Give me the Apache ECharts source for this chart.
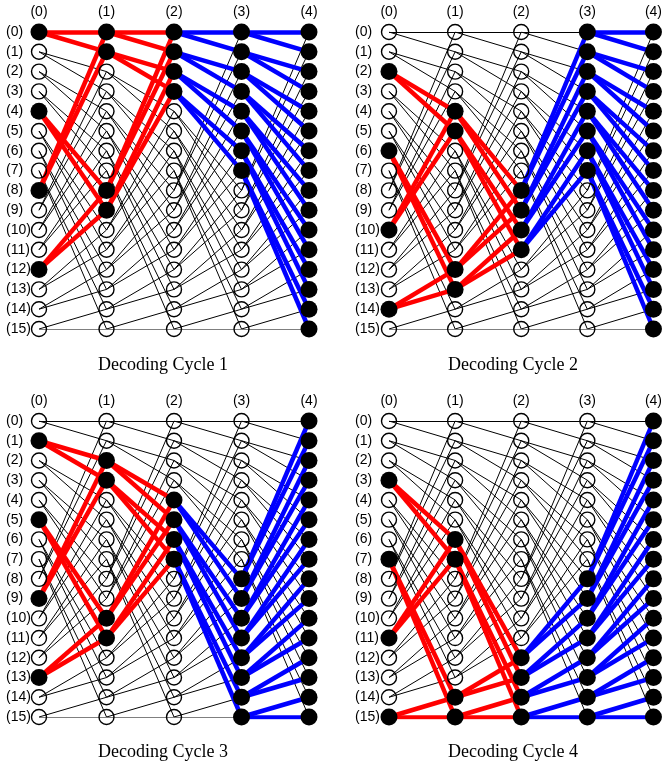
<!DOCTYPE html>
<html>
<head>
<meta charset="utf-8">
<script src="https://cdn.jsdelivr.net/npm/echarts@6/dist/echarts.min.js"></script>
<style>html,body{margin:0;padding:0;background:#fff}#c{width:665px;height:767px}</style>
</head>
<body>
<div id="c"></div>
<script>
// ---- data ----
const stageLabels = ['(0)', '(1)', '(2)', '(3)', '(4)'];
const rowLabels = ['(0)', '(1)', '(2)', '(3)', '(4)', '(5)', '(6)', '(7)', '(8)', '(9)', '(10)', '(11)', '(12)', '(13)', '(14)', '(15)'];
// each node i of a stage connects to these two nodes of the next stage
const shuffleTargets = [[0,1],[2,3],[4,5],[6,7],[8,9],[10,11],[12,13],[14,15],[0,1],[2,3],[4,5],[6,7],[8,9],[10,11],[12,13],[14,15]];
const cycleTitles = ['Decoding Cycle 1', 'Decoding Cycle 2', 'Decoding Cycle 3', 'Decoding Cycle 4'];
const cycle1Active = [[0,4,8,12],[0,1,8,9],[0,1,2,3],[0,1,2,3,4,5,6,7],[0,1,2,3,4,5,6,7,8,9,10,11,12,13,14,15]];
const cycle2Active = [[2,6,10,14],[4,5,12,13],[8,9,10,11],[0,1,2,3,4,5,6,7],[0,1,2,3,4,5,6,7,8,9,10,11,12,13,14,15]];
const cycle3Active = [[1,5,9,13],[2,3,10,11],[4,5,6,7],[8,9,10,11,12,13,14,15],[0,1,2,3,4,5,6,7,8,9,10,11,12,13,14,15]];
const cycle4Active = [[3,7,11,15],[6,7,14,15],[12,13,14,15],[8,9,10,11,12,13,14,15],[0,1,2,3,4,5,6,7,8,9,10,11,12,13,14,15]];
const cycles = [cycle1Active, cycle2Active, cycle3Active, cycle4Active];

// ---- layout / style ----
const panels = [
  {left: 39, top: 32, width: 270, height: 297, labelMargin: 33, titleX: 163, titleY: 356},
  {left: 389, top: 32, width: 269, height: 297, labelMargin: 34, titleX: 513, titleY: 356},
  {left: 39, top: 421, width: 270, height: 296, labelMargin: 33, titleX: 163, titleY: 743},
  {left: 389, top: 421, width: 269, height: 296, labelMargin: 34, titleX: 513, titleY: 743}
];
const RED = '#ff0000', BLUE = '#0000ff';
const sans = '"Liberation Sans", Arial, Helvetica, sans-serif';
const serif = '"Liberation Serif", "Times New Roman", Times, serif';

const grids = [], xAxes = [], yAxes = [], series = [], titles = [];
panels.forEach((p, k) => {
  grids.push({left: p.left, top: p.top, width: p.width, height: p.height});
  xAxes.push({
    gridIndex: k, type: 'value', min: 0, max: 4, interval: 1, position: 'top',
    axisLine: {show: false}, axisTick: {show: false}, splitLine: {show: false},
    axisLabel: {margin: 13, color: '#000', fontSize: 14, fontFamily: sans,
      formatter: v => stageLabels[v]}
  });
  yAxes.push({
    gridIndex: k, type: 'value', min: 0, max: 15, interval: 1, inverse: true,
    axisLine: {show: false}, axisTick: {show: false}, splitLine: {show: false},
    axisLabel: {margin: p.labelMargin, align: 'left', color: '#000', fontSize: 14, fontFamily: sans,
      formatter: v => rowLabels[v]}
  });
  titles.push({text: cycleTitles[k], left: p.titleX, top: p.titleY, textAlign: 'center', padding: 0,
    textStyle: {fontFamily: serif, fontSize: 18, fontWeight: 'normal', color: '#000'}});

  const act = cycles[k];
  const blackEdges = [], redEdges = [], blueEdges = [];
  for (let s = 0; s < 4; s++) {
    for (let i = 0; i < rowLabels.length; i++) {
      shuffleTargets[i].forEach(j => {
        const e = {coords: [[s, i], [s + 1, j]]};
        if (act[s].includes(i) && act[s + 1].includes(j)) {
          (s < 2 ? redEdges : blueEdges).push(e);
        } else blackEdges.push(e);
      });
    }
  }
  const openNodes = [], filledNodes = [];
  for (let s = 0; s < 5; s++) {
    for (let i = 0; i < rowLabels.length; i++) {
      (act[s].includes(i) ? filledNodes : openNodes).push([s, i]);
    }
  }
  const base = {coordinateSystem: 'cartesian2d', xAxisIndex: k, yAxisIndex: k, silent: true, animation: false};
  series.push(Object.assign({type: 'lines', data: blackEdges, z: 1,
    lineStyle: {color: '#000', width: 1, opacity: 1}}, base));
  series.push(Object.assign({type: 'lines', data: redEdges, z: 2,
    lineStyle: {color: RED, width: 4.5, opacity: 1}}, base));
  series.push(Object.assign({type: 'lines', data: blueEdges, z: 2,
    lineStyle: {color: BLUE, width: 4.5, opacity: 1}}, base));
  series.push(Object.assign({type: 'scatter', data: openNodes, z: 3, symbol: 'circle', symbolSize: 15,
    itemStyle: {color: 'rgba(0,0,0,0)', borderColor: '#000', borderWidth: 1.4, opacity: 1}}, base));
  series.push(Object.assign({type: 'scatter', data: filledNodes, z: 4, symbol: 'circle', symbolSize: 17,
    itemStyle: {color: '#000', opacity: 1}}, base));
});

const chart = echarts.init(document.getElementById('c'), null, {renderer: 'canvas'});
chart.setOption({
  backgroundColor: '#fff',
  animation: false,
  title: titles,
  grid: grids,
  xAxis: xAxes,
  yAxis: yAxes,
  series: series
});
</script>
</body>
</html>
